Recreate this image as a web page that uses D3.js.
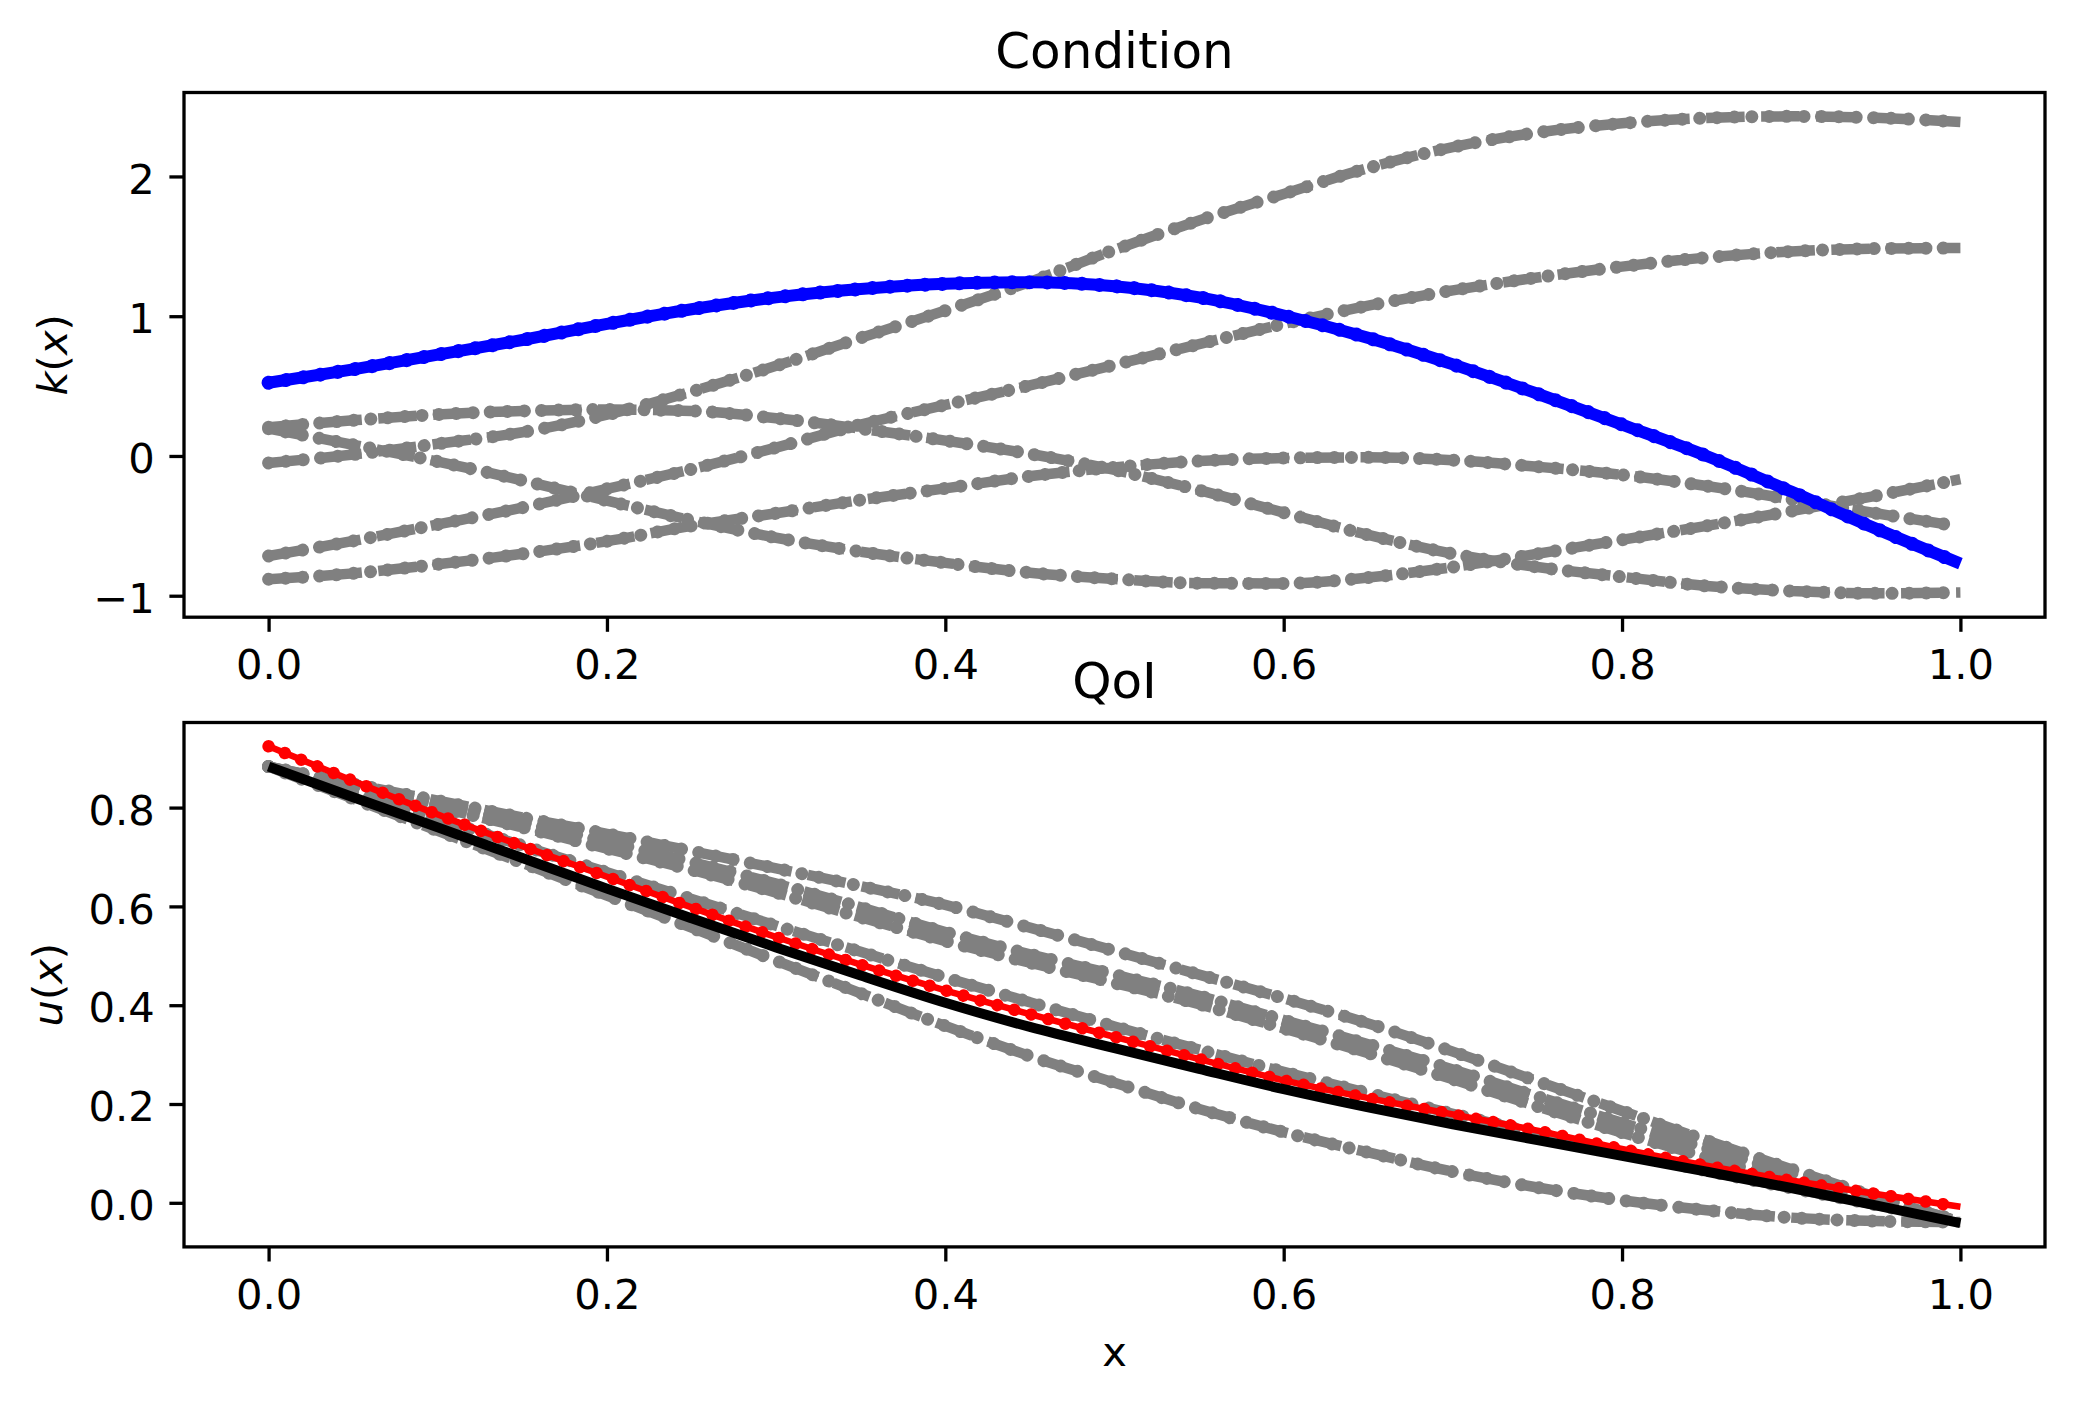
<!DOCTYPE html>
<html>
<head>
<meta charset="utf-8">
<script src="https://cdn.jsdelivr.net/npm/d3@7"></script>
<style>
  body { margin: 0; background: #fff; }
  svg { display: block; font-family: "DejaVu Sans", sans-serif; }
</style>
</head>
<body>
<div id="chart"></div>
<script>
// x grid shared by every curve
const xGrid = [0, 0.05, 0.1, 0.15, 0.2, 0.25, 0.3, 0.35, 0.4, 0.45, 0.5,
               0.55, 0.6, 0.65, 0.7, 0.75, 0.8, 0.85, 0.9, 0.95, 1.0];

// top panel: condition k(x)
const kTrue = [0.524, 0.62, 0.725, 0.83, 0.945, 1.05, 1.135, 1.195, 1.232, 1.243, 1.215,
               1.135, 1.005, 0.845, 0.655, 0.445, 0.225, 0.0, -0.255, -0.52, -0.77];
const kSample1 = [-0.05, 0.01, 0.087, 0.17, 0.295, 0.46, 0.645, 0.845, 1.04, 1.245, 1.475,
                  1.685, 1.875, 2.06, 2.21, 2.314, 2.38, 2.418, 2.43, 2.42, 2.39];
const kSample2 = [-0.716, -0.608, -0.49, -0.37, -0.235, -0.095, 0.06, 0.225, 0.365, 0.505, 0.652,
                  0.8, 0.945, 1.075, 1.185, 1.277, 1.355, 1.42, 1.463, 1.484, 1.488];
const kSample3 = [0.205, 0.255, 0.297, 0.322, 0.332, 0.322, 0.27, 0.195, 0.11, 0.015, -0.1,
                  -0.245, -0.405, -0.565, -0.7, -0.795, -0.865, -0.93, -0.966, -0.983, -0.977];
const kSample4 = [0.195, 0.08, -0.04, -0.175, -0.32, -0.46, -0.585, -0.685, -0.765, -0.835, -0.88,
                  -0.91, -0.912, -0.87, -0.795, -0.7, -0.6, -0.5, -0.395, -0.285, -0.166];
const kSample5 = [-0.882, -0.84, -0.775, -0.7, -0.61, -0.5, -0.41, -0.315, -0.232, -0.145, -0.082,
                  -0.036, -0.015, -0.01, -0.03, -0.077, -0.135, -0.215, -0.31, -0.41, -0.505];

// bottom panel: quantity of interest u(x)
const uTrue = [0.924, 0.854, 0.786, 0.722, 0.66, 0.598, 0.538, 0.482, 0.43, 0.382, 0.336,
               0.291, 0.248, 0.212, 0.179, 0.146, 0.109, 0.075, 0.045, 0.018, -0.008];
const uPred = [0.883, 0.821, 0.76, 0.698, 0.636, 0.576, 0.517, 0.46, 0.405, 0.356, 0.313,
               0.271, 0.23, 0.193, 0.159, 0.127, 0.095, 0.063, 0.03, -0.005, -0.041];
const uSample1 = [0.883, 0.848, 0.814, 0.78, 0.747, 0.712, 0.677, 0.641, 0.603, 0.557, 0.51,
                  0.462, 0.414, 0.363, 0.306, 0.246, 0.186, 0.126, 0.068, 0.012, -0.038];
const uSample2 = [0.883, 0.846, 0.808, 0.77, 0.731, 0.69, 0.646, 0.598, 0.548, 0.503, 0.462,
                  0.419, 0.37, 0.321, 0.27, 0.215, 0.162, 0.11, 0.06, 0.01, -0.038];
const uSample3 = [0.883, 0.843, 0.801, 0.76, 0.717, 0.674, 0.628, 0.578, 0.53, 0.486, 0.445,
                  0.402, 0.353, 0.303, 0.25, 0.195, 0.142, 0.092, 0.045, 0.002, -0.038];
const uSample4 = [0.883, 0.83, 0.777, 0.723, 0.669, 0.615, 0.561, 0.508, 0.456, 0.406, 0.357,
                  0.31, 0.265, 0.222, 0.18, 0.14, 0.102, 0.065, 0.03, -0.004, -0.038];
const uSample5 = [0.883, 0.818, 0.753, 0.688, 0.622, 0.557, 0.49, 0.424, 0.358, 0.297, 0.243,
                  0.19, 0.143, 0.102, 0.063, 0.031, 0.005, -0.015, -0.03, -0.037, -0.039];

const xTicks = [0, 0.2, 0.4, 0.6, 0.8, 1.0];
const kTicks = [-1, 0, 1, 2];
const uTicks = [0, 0.2, 0.4, 0.6, 0.8];

const W = 2074, H = 1407;
const axLeft = 184, axRight = 2045;
const fs = 41.67;          // 10pt at 300 dpi
const tickLen = 14.6, tickPad = 14.6, lw = 3.3;
const markerCount = 101;   // points per curve in the original run

const svg = d3.select("#chart").append("svg")
    .attr("width", W)
    .attr("height", H);

svg.append("rect").attr("width", W).attr("height", H).attr("fill", "white");

// matplotlib style 5% margins
function padded(ext) {
    const d = (ext[1] - ext[0]) * 0.05;
    return [ext[0] - d, ext[1] + d];
}

const x = d3.scaleLinear().domain(padded([0, 1])).range([axLeft, axRight]);

// a path plus round markers spaced evenly along it
function drawCurve(g, y, values, style) {
    const line = d3.line()
        .x((d, i) => x(xGrid[i]))
        .y(d => y(d))
        .curve(d3.curveMonotoneX);

    const p = g.append("path")
        .attr("d", line(values))
        .attr("fill", "none")
        .attr("stroke", style.color)
        .attr("stroke-width", style.width)
        .attr("stroke-dasharray", style.dash || null);

    if (style.dot) {
        const L = p.node().getTotalLength();
        const step = L / (markerCount - 1);
        g.append("path")
            .attr("d", line(values))
            .attr("fill", "none")
            .attr("stroke", style.color)
            .attr("stroke-width", style.dot)
            .attr("stroke-linecap", "round")
            .attr("stroke-dasharray", `0.01 ${step - 0.01}`);
    }
}

function drawPanel(cfg) {
    const y = d3.scaleLinear()
        .domain(padded(d3.extent(cfg.series.flatMap(s => s.values))))
        .range([cfg.bottom, cfg.top]);

    const g = svg.append("g");

    // curves
    cfg.series.forEach(s => drawCurve(g, y, s.values, s));

    // spines
    g.append("rect")
        .attr("x", axLeft)
        .attr("y", cfg.top)
        .attr("width", axRight - axLeft)
        .attr("height", cfg.bottom - cfg.top)
        .attr("fill", "none")
        .attr("stroke", "black")
        .attr("stroke-width", lw);

    // x axis
    const xa = g.append("g")
        .attr("transform", `translate(0,${cfg.bottom})`)
        .call(d3.axisBottom(x).tickValues(xTicks).tickFormat(d3.format(".1f"))
            .tickSize(tickLen).tickPadding(tickPad));
    xa.select(".domain").remove();
    xa.selectAll("line").attr("stroke", "black").attr("stroke-width", lw);
    xa.selectAll("text")
        .attr("dy", "0.78em")
        .attr("fill", "black")
        .style("font-size", fs + "px")
        .style("font-family", "DejaVu Sans");

    // y axis
    const ya = g.append("g")
        .attr("transform", `translate(${axLeft},0)`)
        .call(d3.axisLeft(y).tickValues(cfg.ticks).tickFormat(d3.format(cfg.fmt))
            .tickSize(tickLen).tickPadding(tickPad));
    ya.select(".domain").remove();
    ya.selectAll("line").attr("stroke", "black").attr("stroke-width", lw);
    ya.selectAll("text")
        .attr("dy", "0.4em")
        .attr("fill", "black")
        .style("font-size", fs + "px")
        .style("font-family", "DejaVu Sans");

    // title
    g.append("text")
        .attr("x", (axLeft + axRight) / 2)
        .attr("y", cfg.top - 25)
        .attr("text-anchor", "middle")
        .attr("fill", "black")
        .style("font-size", "50px")
        .text(cfg.title);

    // y label, k(x) / u(x) with italic letters
    const bb = ya.node().getBBox();
    const lx = axLeft + bb.x - 16.7 - 9.8;
    const ly = (cfg.top + cfg.bottom) / 2;
    const lab = g.append("text")
        .attr("transform", `translate(${lx},${ly}) rotate(-90)`)
        .attr("text-anchor", "middle")
        .attr("fill", "black")
        .style("font-size", fs + "px");
    lab.append("tspan").style("font-style", "italic").text(cfg.ylab);
    lab.append("tspan").text("(");
    lab.append("tspan").style("font-style", "italic").text("x");
    lab.append("tspan").text(")");

    if (cfg.xlab) {
        g.append("text")
            .attr("x", (axLeft + axRight) / 2)
            .attr("y", cfg.bottom + 119)
            .attr("text-anchor", "middle")
            .attr("fill", "black")
            .style("font-size", fs + "px")
            .text(cfg.xlab);
    }
}

const grey = { color: "#808080", width: 10.5, dash: "38.5 16.5", dot: 13 };

drawPanel({
    top: 92.5, bottom: 617.2,
    title: "Condition", ylab: "k",
    ticks: kTicks, fmt: "d",
    series: [
        { values: kSample1, ...grey },
        { values: kSample2, ...grey },
        { values: kSample3, ...grey },
        { values: kSample4, ...grey },
        { values: kSample5, ...grey },
        { values: kTrue, color: "#0000ff", width: 12, dot: 14 }
    ]
});

drawPanel({
    top: 722.5, bottom: 1246.9,
    title: "QoI", ylab: "u", xlab: "x",
    ticks: uTicks, fmt: ".1f",
    series: [
        { values: uSample1, ...grey },
        { values: uSample2, ...grey },
        { values: uSample3, ...grey },
        { values: uSample4, ...grey },
        { values: uSample5, ...grey },
        { values: uTrue, color: "#ff0000", width: 6.5, dot: 12.5 },
        { values: uPred, color: "#000000", width: 10 }
    ]
});
</script>
</body>
</html>
